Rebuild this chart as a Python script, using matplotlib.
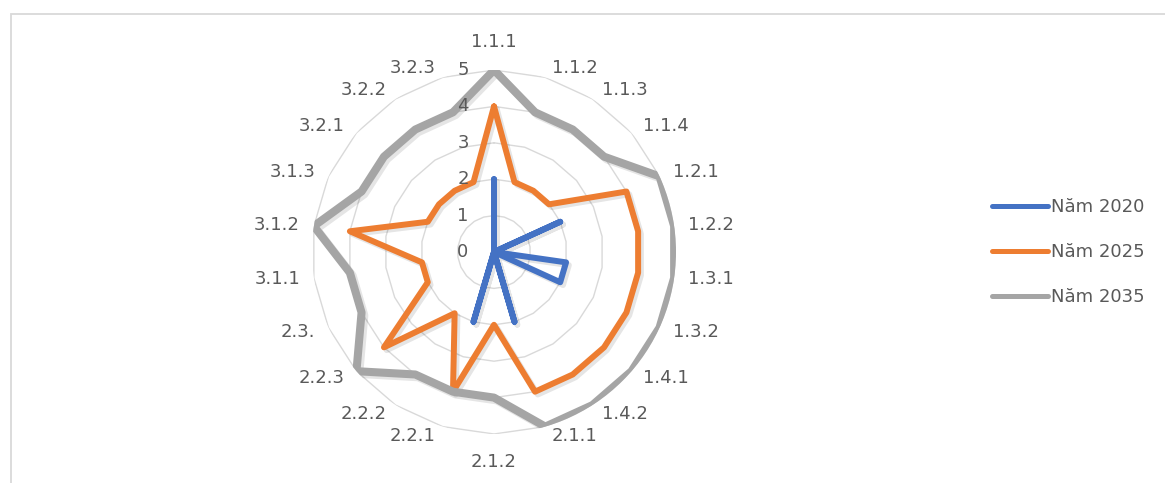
import numpy as np
import matplotlib
matplotlib.use("Agg")
import matplotlib.pyplot as plt
import matplotlib.patheffects as pe
from matplotlib.lines import Line2D
from matplotlib.patches import Rectangle
from matplotlib.transforms import offset_copy

categories = ["1.1.1", "1.1.2", "1.1.3", "1.1.4", "1.2.1", "1.2.2", "1.3.1", "1.3.2",
              "1.4.1", "1.4.2", "2.1.1", "2.1.2", "2.2.1", "2.2.2", "2.2.3", "2.3.",
              "3.1.1", "3.1.2", "3.1.3", "3.2.1", "3.2.2", "3.2.3"]
nam_2020 = [2, 0, 0, 0, 2, 0, 2, 2, 0, 0, 2, 0, 2, 0, 0, 0, 0, 0, 0, 0, 0, 0]
nam_2025 = [4, 2, 2, 2, 4, 4, 4, 4, 4, 4, 4, 2, 4, 2, 4, 2, 2, 4, 2, 2, 2, 2]
nam_2035 = [5, 4, 4, 4, 5, 5, 5, 5, 5, 5, 5, 4, 4, 4, 5, 4, 4, 5, 4, 4, 4, 4]
series_names = ["Năm 2020", "Năm 2025", "Năm 2035"]
series_colors = ["#4472C4", "#ED7D31", "#A5A5A5"]
radial_ticks = [0, 1, 2, 3, 4, 5]

W, H = 1165, 483
fig = plt.figure(figsize=(W / 100, H / 100), dpi=100)
plt.rcParams['font.family'] = ['DejaVu Sans']
text_color = "#595959"
fs = 13

cx, cy, R = 494, 252, 182
ax = fig.add_axes([(cx - R) / W, (H - cy - R) / H, 2 * R / W, 2 * R / H], projection="polar")
ax.set_theta_offset(np.pi / 2)
ax.set_theta_direction(-1)
ax.set_ylim(0, 5)
ax.grid(False)
ax.spines["polar"].set_visible(False)
ax.set_xticks([])
ax.set_yticks([])
ax.patch.set_alpha(0)

n = len(categories)
theta = np.linspace(0, 2 * np.pi, n, endpoint=False)
theta_c = np.append(theta, theta[0])

# polygon gridlines
for v in radial_ticks[1:]:
    ax.plot(theta_c, [v] * (n + 1), color="#d9d9d9", lw=1.0, zorder=1)

shadow = [pe.SimpleLineShadow(offset=(2, -2), alpha=0.10, shadow_color="black"), pe.Normal()]
widths = [4.3, 4.3, 5.8]
for vals, col, lw, name in zip([nam_2020, nam_2025, nam_2035], series_colors, widths, series_names):
    v = np.append(vals, vals[0])
    ax.plot(theta_c, v, color=col, lw=lw, solid_joinstyle="round", solid_capstyle="round",
            path_effects=shadow, zorder=3, label=name)

# radial tick labels
tr = offset_copy(ax.transData, fig=fig, x=-31, y=0, units="dots")
for v in radial_ticks:
    ax.text(0, v, str(v), transform=tr, ha="center", va="center", fontsize=fs, color=text_color)

# category labels
for t, lab in zip(theta, categories):
    s, c = np.sin(t), np.cos(t)
    if abs(s) < 0.05:
        dx, dy, ha = 0, 28 * np.sign(c), "center"
    else:
        dx = np.sign(s) * (4 + 10 * abs(s))
        dy = 10 * c
        ha = "left" if s > 0 else "right"
    trl = offset_copy(ax.transData, fig=fig, x=dx, y=dy, units="dots")
    ax.text(t, 5, lab, transform=trl, ha=ha, va="center", fontsize=fs, color=text_color)

# legend
handles = [Line2D([], [], color=c, lw=3.6, solid_capstyle="round") for c in series_colors]
fig.legend(handles, series_names, loc="center left", bbox_to_anchor=(983 / W, 1 - 252 / H),
           frameon=False, handlelength=3.1, handletextpad=0.15, labelspacing=1.5,
           fontsize=fs, labelcolor=text_color, borderpad=0)

# chart border (partially visible)
fig.add_artist(Rectangle((10.5 / W, -0.1), 1.2, (H - 14.5) / H + 0.1, transform=fig.transFigure,
                         fill=False, ec="#d9d9d9", lw=1.3))

fig.savefig("out.png", dpi=100)
